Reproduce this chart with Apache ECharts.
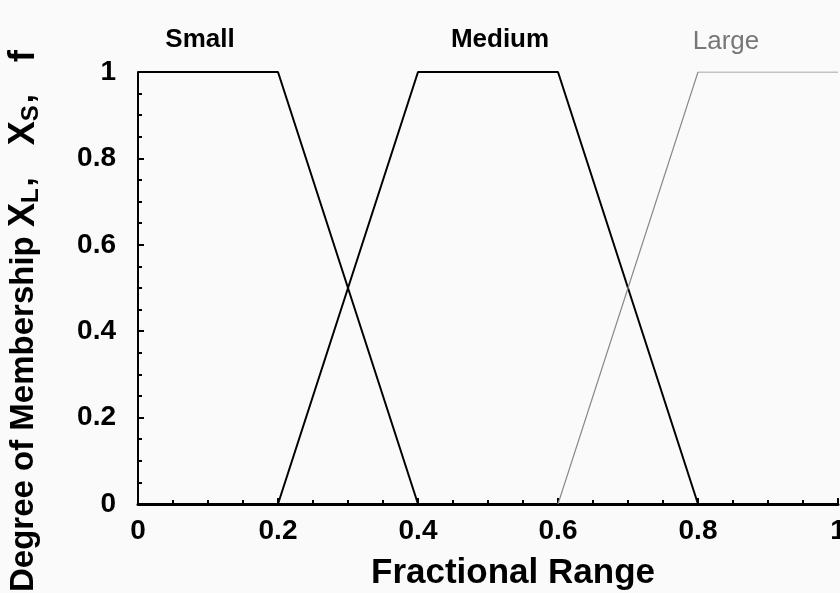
<!DOCTYPE html>
<html lang="en">
<head>
    <meta charset="UTF-8">
    <title>Fuzzy membership</title>
    <style>
        html,body{
            width: 100%;
            height: 100%;
            margin: 0;
            padding: 0;
            background: #fafafa;
        }
        #chart{
            width: 840px;
            height: 593px;
        }
    </style>
</head>
<body>
    <div id="chart"></div>
    <script src="https://cdn.jsdelivr.net/npm/echarts@6/dist/echarts.min.js"></script>
    <script>
        // membership functions: [fractional range, degree]
        var smallData = [[0, 1], [0.2, 1], [0.4, 0]];
        var mediumData = [[0.2, 0], [0.4, 1], [0.6, 1], [0.8, 0]];
        var largeData = [[0.6, 0], [0.8, 1], [1, 1]];
        var setNames = ['Small', 'Medium', 'Large'];

        var font = 'Liberation Sans, Arial, sans-serif';
        var myChart = echarts.init(document.getElementById('chart'));

        var option = {
            backgroundColor: '#fafafa',
            animation: false,
            grid: {
                left: 138,
                right: 2,
                top: 72,
                bottom: 89,
                outerBoundsMode: 'none',
                containLabel: false
            },
            xAxis: {
                type: 'value',
                min: 0,
                max: 1,
                interval: 0.2,
                name: 'Fractional Range',
                nameLocation: 'middle',
                nameGap: 52,
                nameTextStyle: {
                    color: '#000',
                    fontFamily: font,
                    fontWeight: 'bold',
                    fontSize: 35,
                    padding: [0, 0, 0, 50]
                },
                axisLine: { lineStyle: { color: '#000', width: 3 } },
                axisTick: { inside: true, length: 6, lineStyle: { color: '#000', width: 2 } },
                minorTick: { show: true, splitNumber: 4, length: 4, lineStyle: { color: '#000', width: 2 } },
                splitLine: { show: false },
                axisLabel: {
                    color: '#000',
                    fontFamily: font,
                    fontWeight: 'bold',
                    fontSize: 28,
                    margin: 13,
                    showMaxLabel: true,
                    hideOverlap: false
                }
            },
            yAxis: {
                type: 'value',
                min: 0,
                max: 1,
                interval: 0.2,
                axisLine: { show: true, lineStyle: { color: '#000', width: 2 } },
                axisTick: { show: true, inside: true, length: 6, lineStyle: { color: '#000', width: 2 } },
                minorTick: { show: true, splitNumber: 4, length: 4, lineStyle: { color: '#000', width: 2 } },
                splitLine: { show: false },
                axisLabel: {
                    color: '#000',
                    fontFamily: font,
                    fontWeight: 'bold',
                    fontSize: 28,
                    margin: 22
                }
            },
            series: [
                {
                    name: setNames[0],
                    type: 'line',
                    data: smallData,
                    symbol: 'none',
                    lineStyle: { color: '#000', width: 2 }
                },
                {
                    name: setNames[1],
                    type: 'line',
                    data: mediumData,
                    symbol: 'none',
                    lineStyle: { color: '#000', width: 2 }
                },
                {
                    name: setNames[2],
                    type: 'line',
                    data: largeData,
                    symbol: 'none',
                    lineStyle: { color: '#8a8a8a', width: 1.2 }
                }
            ],
            graphic: [
                {
                    type: 'text',
                    x: 24,
                    y: 592,
                    rotation: Math.PI / 2,
                    style: {
                        text: 'Degree of Membership {big|X}{sub|L}{gap|,}{big|X}{sub|S}{gap|,}{big|f}',
                        fill: '#000',
                        font: 'bold 33px ' + font,
                        align: 'left',
                        verticalAlign: 'middle',
                        rich: {
                            big: {
                                fill: '#000',
                                font: 'bold 36px ' + font
                            },
                            sub: {
                                fill: '#000',
                                font: 'bold 24px ' + font,
                                padding: [14, 0, 0, 0]
                            },
                            gap: {
                                fill: '#000',
                                font: 'bold 33px ' + font,
                                padding: [0, 32, 0, 2]
                            }
                        }
                    }
                },
                {
                    type: 'text', x: 200, y: 40,
                    style: { text: setNames[0], fill: '#000', font: 'bold 26px ' + font, align: 'center', verticalAlign: 'middle' }
                },
                {
                    type: 'text', x: 500, y: 40,
                    style: { text: setNames[1], fill: '#000', font: 'bold 26px ' + font, align: 'center', verticalAlign: 'middle' }
                },
                {
                    type: 'text', x: 726, y: 42,
                    style: { text: setNames[2], fill: '#777', font: '26px ' + font, align: 'center', verticalAlign: 'middle' }
                }
            ]
        };
        myChart.setOption(option);
    </script>
</body>
</html>
